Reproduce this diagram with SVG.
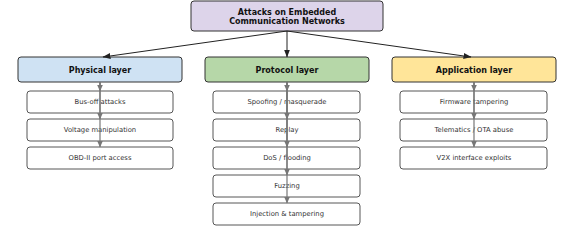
<svg xmlns="http://www.w3.org/2000/svg" width="570" height="237" viewBox="0 0 570 237">
<style>
.box{stroke:#333;stroke-width:1}
.child{fill:#fff;stroke:#444;stroke-width:0.9}
.t{font-family:"DejaVu Sans",sans-serif;text-anchor:middle;dominant-baseline:central}
.b{font-weight:bold;font-size:8px;fill:#111}
.c{font-size:6.8px;fill:#333}
.main{stroke:#222;stroke-width:1;fill:none}
.sub{stroke:#777;stroke-width:1.2;fill:none}
</style>
<defs>
<marker id="ah" markerWidth="8" markerHeight="6" refX="7.5" refY="3" orient="auto" markerUnits="userSpaceOnUse"><path d="M0,0 L8,3 L0,6 z" fill="#222"/></marker>
<marker id="ag" markerWidth="7" markerHeight="6" refX="6.5" refY="3" orient="auto" markerUnits="userSpaceOnUse"><path d="M0,0 L7,3 L0,6 z" fill="#777"/></marker>
</defs>
<rect width="570" height="237" fill="#fff"/>
<g id="root"><rect class="box" x="191" y="1" width="192" height="30" rx="3" fill="#ddd4ea"/><text class="t b" x="287" y="12">Attacks on Embedded</text><text class="t b" x="287" y="21">Communication Networks</text></g>
<g id="physical"><rect class="box" x="18" y="57" width="164" height="25" rx="3" fill="#cfe2f3"/><text class="t b" x="100" y="70">Physical layer</text></g>
<g id="protocol"><rect class="box" x="205" y="57" width="164" height="25" rx="3" fill="#b6d7a8"/><text class="t b" x="287" y="70">Protocol layer</text></g>
<g id="application"><rect class="box" x="392" y="57" width="164" height="25" rx="3" fill="#ffe599"/><text class="t b" x="474" y="70">Application layer</text></g>
<g id="p1"><rect class="child" x="27" y="91" width="146" height="22" rx="3"/><text class="t c" x="100" y="102">Bus-off attacks</text></g>
<g id="p2"><rect class="child" x="27" y="119" width="146" height="22" rx="3"/><text class="t c" x="100" y="130">Voltage manipulation</text></g>
<g id="p3"><rect class="child" x="27" y="147" width="146" height="22" rx="3"/><text class="t c" x="100" y="158">OBD-II port access</text></g>
<g id="r1"><rect class="child" x="213" y="91" width="147" height="22" rx="3"/><text class="t c" x="287" y="102">Spoofing / masquerade</text></g>
<g id="r2"><rect class="child" x="213" y="119" width="147" height="22" rx="3"/><text class="t c" x="287" y="130">Replay</text></g>
<g id="r3"><rect class="child" x="213" y="147" width="147" height="22" rx="3"/><text class="t c" x="287" y="158">DoS / flooding</text></g>
<g id="r4"><rect class="child" x="213" y="175" width="147" height="22" rx="3"/><text class="t c" x="287" y="186">Fuzzing</text></g>
<g id="r5"><rect class="child" x="213" y="203" width="147" height="22" rx="3"/><text class="t c" x="287" y="214">Injection &amp; tampering</text></g>
<g id="a1"><rect class="child" x="400" y="91" width="147" height="22" rx="3"/><text class="t c" x="474" y="102">Firmware tampering</text></g>
<g id="a2"><rect class="child" x="400" y="119" width="147" height="22" rx="3"/><text class="t c" x="474" y="130">Telematics / OTA abuse</text></g>
<g id="a3"><rect class="child" x="400" y="147" width="147" height="22" rx="3"/><text class="t c" x="474" y="158">V2X interface exploits</text></g>
<g id="connectors">
<line class="main" x1="287" y1="31" x2="103" y2="57" marker-end="url(#ah)"/>
<line class="main" x1="287" y1="31" x2="287" y2="57" marker-end="url(#ah)"/>
<line class="main" x1="287" y1="31" x2="471" y2="57" marker-end="url(#ah)"/>
<line class="sub" x1="100" y1="82" x2="100" y2="91" marker-end="url(#ag)"/>
<line class="sub" x1="100" y1="82" x2="100" y2="119" marker-end="url(#ag)"/>
<line class="sub" x1="100" y1="82" x2="100" y2="147" marker-end="url(#ag)"/>
<line class="sub" x1="287" y1="82" x2="287" y2="91" marker-end="url(#ag)"/>
<line class="sub" x1="287" y1="82" x2="287" y2="119" marker-end="url(#ag)"/>
<line class="sub" x1="287" y1="82" x2="287" y2="147" marker-end="url(#ag)"/>
<line class="sub" x1="287" y1="82" x2="287" y2="175" marker-end="url(#ag)"/>
<line class="sub" x1="287" y1="82" x2="287" y2="203" marker-end="url(#ag)"/>
<line class="sub" x1="474" y1="82" x2="474" y2="91" marker-end="url(#ag)"/>
<line class="sub" x1="474" y1="82" x2="474" y2="119" marker-end="url(#ag)"/>
<line class="sub" x1="474" y1="82" x2="474" y2="147" marker-end="url(#ag)"/>
</g>
</svg>
